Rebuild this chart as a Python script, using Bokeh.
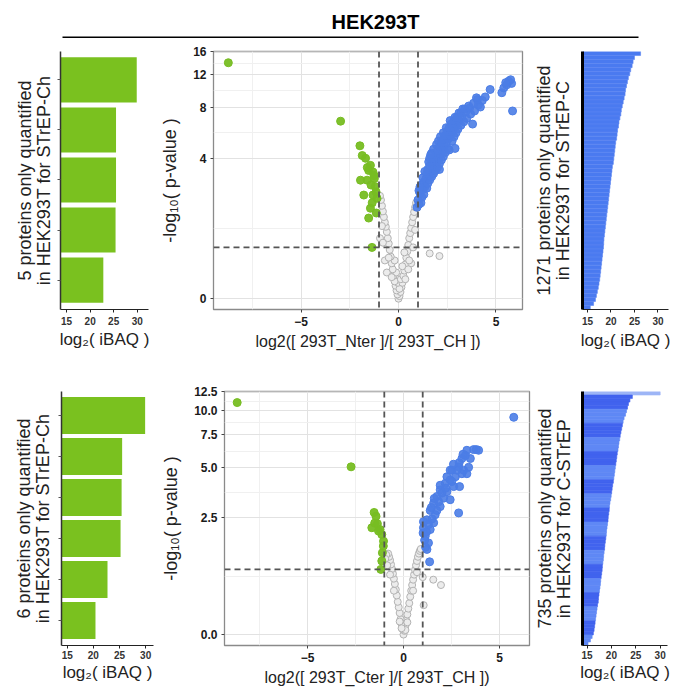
import numpy as np
from bokeh.plotting import figure
from bokeh.layouts import column, row
from bokeh.models import Range1d, FixedTicker, CustomJSTickFormatter, Span
from bokeh.embed import file_html
from bokeh.resources import INLINE
from bokeh.core.properties import value

FONT = "Liberation Sans"
BAR_GREEN = "#7ac11f"
PT_GREEN = "#77bd22"
PT_BLUE = "#4b7de6"
BLUE_BAR = "#4a7af0"
BLUE_DARK = "#4163ee"
BLUE_LIGHT = "#5f88f5"
BLUE_PALE = "#9db5f6"

title_text = "HEK293T"

# ---------------- data ----------------
ibaq_ticks = [15, 20, 25, 30]

# proteins only quantified in one condition (log2 iBAQ), top to bottom
nter_only_ibaq = [29.9, 25.5, 25.5, 25.4, 22.8]
cter_only_ibaq = [29.9, 25.5, 25.4, 25.2, 22.7, 20.4]

# 1271 proteins only in STrEP-C, ranked profile (each value = one rank bin)
strepc_only_ibaq = [26.3, 25.0, 24.7, 24.5, 24.2, 24.0, 23.7, 23.5, 23.3, 23.1,
                    23.0, 22.8, 22.6, 22.4, 22.2, 22.1, 21.9, 21.7, 21.6, 21.4,
                    21.3, 21.2, 21.0, 20.9, 20.8, 20.7, 20.6, 20.5, 20.3, 20.2,
                    20.1, 20.0, 19.9, 19.8, 19.7, 19.6, 19.5, 19.4, 19.3, 19.2,
                    19.1, 19.0, 18.9, 18.8, 18.7, 18.6, 18.5, 18.45, 18.4, 18.3,
                    18.2, 18.1, 18.0, 17.9, 17.8, 17.7, 17.6, 17.45, 17.3, 17.1,
                    16.9, 16.7, 16.3, 15.6]

# 735 proteins only in C-STrEP, ranked profile
cstrep_only_ibaq = [30.0, 24.3, 23.8, 23.5, 23.3, 23.1, 22.9, 22.6, 22.4, 22.25,
                    22.1, 21.95, 21.8, 21.7, 21.55, 21.45, 21.35, 21.2, 21.1, 21.0,
                    20.9, 20.8, 20.7, 20.6, 20.5, 20.4, 20.25, 20.15, 20.05, 19.95,
                    19.85, 19.7, 19.6, 19.55, 19.45, 19.35, 19.3, 19.2, 19.1, 19.0,
                    18.95, 18.85, 18.75, 18.65, 18.6, 18.5, 18.4, 18.35, 18.25, 18.15,
                    18.1, 18.0, 17.9, 17.8, 17.75, 17.65, 17.55, 17.45, 17.35, 17.3,
                    17.15, 17.05, 16.95, 16.85, 16.75, 16.65, 16.55, 16.45, 16.3, 16.05,
                    15.7, 15.2]

# volcano 1: log2(Nter/CH) vs -log10(p)
nter_green = [(-8.73, 13.95), (-2.97, 6.65), (-1.98, 4.77), (-1.86, 4.16), (-1.69, 4.0),
              (-1.44, 3.61), (-1.53, 3.35), (-1.31, 3.27), (-1.95, 2.89), (-1.61, 2.89),
              (-1.24, 2.96), (-1.41, 2.68), (-1.19, 2.61), (-1.78, 2.28), (-1.31, 2.28),
              (-1.10, 2.16), (-1.44, 1.82), (-1.53, 1.52), (-1.14, 1.67), (-1.36, 0.80),
              (-1.25, 3.1), (-1.6, 3.5), (-1.15, 2.4), (-1.35, 2.0)]
nter_blue = [(0.95, 1.85), (1.05, 1.95), (1.0, 2.1), (1.15, 2.0), (1.2, 2.2), (1.1, 2.35),
             (1.3, 2.3), (1.25, 2.5), (1.05, 2.45), (1.35, 2.6), (1.2, 2.7), (1.45, 2.55),
             (1.3, 2.8), (1.5, 2.75), (1.4, 2.95), (1.6, 2.9), (1.25, 3.0), (1.55, 3.1),
             (1.7, 3.05), (1.45, 3.2), (1.65, 3.3), (1.8, 3.2), (1.5, 3.4), (1.75, 3.45),
             (1.9, 3.35), (1.6, 3.6), (1.85, 3.6), (2.0, 3.5), (1.55, 3.8), (1.7, 3.8),
             (1.95, 3.8), (2.1, 3.7), (1.6, 4.0), (1.8, 4.0), (2.05, 4.0), (2.2, 3.9),
             (1.7, 4.3), (1.9, 4.2), (2.15, 4.25), (2.3, 4.1), (1.8, 4.55), (2.0, 4.45),
             (2.25, 4.5), (2.4, 4.35), (1.95, 4.85), (2.1, 4.7), (2.35, 4.75), (2.55, 4.6),
             (2.05, 5.1), (2.2, 4.95), (2.45, 5.0), (2.6, 4.5), (2.15, 5.4), (2.3, 5.2),
             (2.55, 5.25), (2.75, 5.1), (2.3, 5.7), (2.4, 5.5), (2.65, 5.5), (2.85, 5.4),
             (2.5, 5.8), (2.75, 5.8), (2.95, 5.7), (2.45, 6.1), (2.6, 6.1), (2.85, 6.1),
             (3.05, 6.0), (2.7, 6.4), (2.95, 6.4), (3.2, 6.3), (2.65, 6.7), (2.85, 6.7),
             (3.1, 6.7), (3.35, 6.6), (2.9, 7.0), (3.0, 7.0), (3.25, 7.1), (3.5, 6.9),
             (3.1, 7.4), (3.2, 7.4), (3.45, 7.5), (3.7, 7.3), (3.3, 7.8), (3.4, 7.8),
             (3.65, 7.9), (3.9, 7.6), (3.6, 8.1), (3.85, 8.4), (4.1, 8.2), (3.8, 6.4),
             (4.05, 8.8), (4.3, 8.7), (4.0, 9.0), (4.45, 9.1), (4.7, 10.0), (5.3, 9.6),
             (5.4, 10.2), (5.55, 10.6), (5.65, 11.1), (5.8, 10.8), (5.75, 11.3), (5.5, 10.9),
             (5.85, 7.6), (2.9, 4.6), (2.1, 3.4), (4.2, 8.0), (1.1, 2.6), (1.35, 3.3),
             (1.65, 4.2)]
nter_grey = [(0.0, 0.0), (0.05, 0.03), (-0.05, 0.05), (0.1, 0.08), (-0.1, 0.1), (0.15, 0.14),
             (-0.15, 0.16), (0.05, 0.12), (-0.03, 0.2), (0.2, 0.2), (-0.2, 0.22), (0.12, 0.25),
             (0.25, 0.3), (-0.25, 0.3), (-0.12, 0.35), (0.3, 0.38), (-0.3, 0.4), (0.35, 0.48),
             (-0.35, 0.5), (0.2, 0.45), (-0.2, 0.55), (0.4, 0.6), (-0.4, 0.62), (0.45, 0.72),
             (-0.45, 0.75), (0.3, 0.7), (0.5, 0.85), (-0.5, 0.88), (0.55, 1.0), (-0.55, 1.0),
             (0.6, 1.12), (-0.6, 1.15), (0.65, 1.25), (-0.65, 1.28), (0.7, 1.4), (-0.7, 1.4),
             (0.75, 1.55), (-0.75, 1.55), (0.8, 1.7), (-0.8, 1.72), (0.85, 1.85), (-0.85, 1.9),
             (0.9, 2.0), (-0.9, 2.1), (-0.95, 2.25), (-0.6, 0.35), (0.65, 0.5), (-0.7, 0.55),
             (0.75, 0.8), (0.5, 0.4), (1.6, 0.68), (2.1, 0.63), (-0.95, 1.0), (0.55, 0.55),
             (-0.5, 0.6), (0.35, 0.25), (-0.35, 0.28), (-0.85, 1.3), (0.85, 1.2), (-0.8, 0.9)]

# volcano 2: log2(Cter/CH) vs -log10(p)
cter_green = [(-8.66, 11.0), (-2.73, 5.03), (-1.53, 2.70), (-1.43, 2.55), (-1.65, 2.14),
              (-1.36, 2.28), (-1.22, 2.08), (-1.13, 1.92), (-1.04, 1.72), (-1.05, 1.58),
              (-1.13, 1.20), (-1.18, 1.01), (-1.30, 2.03), (-1.5, 2.3), (-1.1, 1.4)]
cter_blue = [(5.74, 9.25), (3.65, 6.25), (3.3, 6.2), (3.04, 5.59), (3.13, 4.82), (3.30, 4.6),
             (2.87, 5.03), (2.52, 4.82), (2.43, 4.24), (2.17, 4.05), (2.92, 3.88), (2.87, 2.68),
             (1.91, 3.71), (1.74, 3.39), (2.09, 3.31), (2.43, 3.24), (1.57, 3.09), (1.91, 2.94),
             (1.39, 2.78), (1.65, 2.61), (1.22, 2.42), (1.57, 2.31), (1.04, 2.14), (1.39, 2.08),
             (1.13, 1.87), (1.30, 1.67), (1.22, 1.49), (1.36, 1.18), (2.26, 4.42), (2.70, 4.42),
             (3.04, 4.6), (3.39, 5.0), (3.48, 5.59), (3.91, 6.2), (3.79, 6.25), (3.22, 5.8),
             (2.61, 3.88), (2.26, 3.62), (1.83, 3.15), (2.0, 3.55), (1.74, 2.78), (1.48, 2.45),
             (1.04, 2.35), (1.30, 2.25), (1.02, 1.97), (1.91, 3.95), (2.52, 4.15), (2.78, 4.82),
             (2.43, 4.82), (1.1, 1.75), (1.2, 2.0), (1.45, 2.9), (1.6, 3.3), (2.2, 3.8),
             (2.6, 5.2), (2.9, 5.3), (3.1, 5.9), (1.15, 1.55)]
cter_grey = [(0.0, 0.0), (0.05, 0.04), (-0.05, 0.06), (0.1, 0.1), (-0.1, 0.12), (0.15, 0.16),
             (-0.15, 0.18), (0.2, 0.24), (-0.2, 0.26), (0.25, 0.32), (-0.25, 0.34), (0.3, 0.4),
             (-0.3, 0.42), (0.35, 0.5), (-0.35, 0.52), (0.4, 0.6), (-0.4, 0.62), (0.45, 0.7),
             (-0.45, 0.72), (0.5, 0.8), (-0.5, 0.82), (0.55, 0.9), (-0.55, 0.92), (0.6, 1.0),
             (-0.6, 1.02), (0.65, 1.1), (-0.65, 1.12), (0.7, 1.2), (-0.7, 1.22), (0.75, 1.3),
             (-0.75, 1.3), (0.8, 1.38), (-0.8, 1.38), (0.85, 1.45), (-0.9, 1.35), (0.9, 1.5),
             (-0.95, 1.25), (1.0, 0.85), (1.55, 0.8), (1.95, 0.7), (1.05, 0.37), (-0.85, 1.1),
             (0.2, 0.14), (-0.2, 0.15), (0.1, 0.05), (-0.1, 0.07), (-0.5, 0.6), (0.5, 0.6),
             (-0.7, 0.9), (0.7, 0.95)]

nter_pval_ticks = [0, 4, 8, 12, 16]
cter_pval_ticks = [0, 2.5, 5, 7.5, 10, 12.5]
fc_ticks = [-5, 0, 5]
fc_minor_ticks = [-7.5, -2.5, 2.5]
fc_cutoff = 1.0
nter_p_cutoff = 0.80
cter_p_cutoff = 1.01


def base_fig(width, height, borders, xr, yr):
    p = figure(width=width, height=height, output_backend="svg", toolbar_location=None,
               x_range=Range1d(*xr), y_range=Range1d(*yr),
               min_border_left=borders[0], min_border_right=borders[1],
               min_border_top=borders[2], min_border_bottom=borders[3])
    p.background_fill_color = "white"
    p.border_fill_color = "white"
    return p


def style_bar_axes(p, ylabel, ylab_standoff, thick_axis, tick_standoff, xlab_standoff):
    p.grid.grid_line_color = None
    p.outline_line_color = None
    xa = p.xaxis[0]
    xa.ticker = FixedTicker(ticks=ibaq_ticks)
    xa.axis_line_color = "#222222"
    xa.axis_line_width = 1
    xa.major_tick_line_color = "#222222"
    xa.major_tick_out = 3
    xa.major_tick_in = 0
    xa.minor_tick_line_color = None
    xa.major_label_text_font = FONT
    xa.major_label_text_font_style = "bold"
    xa.major_label_text_font_size = "10px"
    xa.major_label_text_color = "#333333"
    xa.major_label_standoff = tick_standoff
    xa.axis_label = "log\u2082( iBAQ )"
    xa.axis_label_text_font = FONT
    xa.axis_label_text_font_style = "normal"
    xa.axis_label_text_font_size = "17px"
    xa.axis_label_text_color = "#222222"
    xa.axis_label_standoff = xlab_standoff
    ya = p.yaxis[0]
    ya.formatter = CustomJSTickFormatter(code="return '';")
    ya.major_label_standoff = 0
    ya.minor_tick_line_color = None
    if thick_axis:
        ya.axis_line_color = "black"
        ya.axis_line_width = 3
        ya.major_tick_line_color = None
        ya.ticker = FixedTicker(ticks=[])
    else:
        ya.axis_line_color = "#333333"
        ya.axis_line_width = 1.5
        ya.major_tick_line_color = "#555555"
        ya.major_tick_out = 3
        ya.major_tick_in = 0
    ya.axis_label = ylabel
    ya.axis_label_text_font = FONT
    ya.axis_label_text_font_style = "normal"
    ya.axis_label_text_font_size = "18px"
    ya.axis_label_text_line_height = 0.95
    ya.axis_label_text_color = "#222222"
    ya.axis_label_standoff = ylab_standoff


def green_panel(vals, ylabel, width, height, borders, xr, pad_top, pad_bot, ylab_standoff,
                tick_standoff, xlab_standoff):
    n = len(vals)
    pos = list(range(1, n + 1))
    p = base_fig(width, height, borders, xr, (n + 0.5 + pad_bot, 0.5 - pad_top))
    p.hbar(y=pos, left=0, right=vals, height=0.9, fill_color=BAR_GREEN, line_color=None)
    style_bar_axes(p, ylabel, ylab_standoff, False, tick_standoff, xlab_standoff)
    p.yaxis[0].ticker = FixedTicker(ticks=pos)
    return p


def blue_panel(vals, colors, line_colors, ylabel, width, height, borders, xr, ylab_standoff,
               tick_standoff, xlab_standoff):
    n = len(vals)
    pos = [i + 0.5 for i in range(n)]
    p = base_fig(width, height, borders, xr, (n, 0))
    p.hbar(y=pos, left=0, right=vals, height=1, fill_color=colors, line_color=line_colors,
           line_width=0.6)
    style_bar_axes(p, ylabel, ylab_standoff, True, tick_standoff, xlab_standoff)
    return p


def volcano(grey, green, blue, pticks, ndec, p_cut, xlabel, width, height, borders, xr, yr,
            ylab_standoff, xlab_standoff):
    p = base_fig(width, height, borders, xr, yr)
    tf = np.log1p
    gx, gy = zip(*grey)
    p.scatter(list(gx), list(tf(np.array(gy))), size=7, fill_color="#ececec",
              line_color="#b3b3b3", line_width=1)
    sx, sy = zip(*green)
    p.scatter(list(sx), list(tf(np.array(sy))), size=8, fill_color=PT_GREEN,
              line_color=PT_GREEN, fill_alpha=0.95)
    bx, by = zip(*blue)
    p.scatter(list(bx), list(tf(np.array(by))), size=8, fill_color=PT_BLUE,
              line_color=PT_BLUE, fill_alpha=0.9)
    for loc in (-fc_cutoff, fc_cutoff):
        p.add_layout(Span(location=loc, dimension="height", line_color="#555555",
                          line_width=1.8, line_dash="6 4"))
    p.add_layout(Span(location=float(tf(p_cut)), dimension="width", line_color="#555555",
                      line_width=1.8, line_dash="6 4"))
    tl = [float(v) for v in tf(np.array(pticks, dtype=float))]
    minors = [(a + b) / 2 for a, b in zip(tl[:-1], tl[1:])]
    p.yaxis[0].ticker = FixedTicker(ticks=tl, minor_ticks=minors)
    p.yaxis[0].formatter = CustomJSTickFormatter(
        code="return (Math.exp(tick) - 1).toFixed(%d);" % ndec)
    p.xaxis[0].ticker = FixedTicker(ticks=fc_ticks, minor_ticks=fc_minor_ticks)
    p.grid.grid_line_color = "#e2e2e2"
    p.grid.grid_line_width = 1
    p.grid.minor_grid_line_color = "#f0f0f0"
    p.grid.minor_grid_line_width = 1
    p.outline_line_color = "#8a8a8a"
    p.outline_line_width = 1.3
    for ax in (p.xaxis[0], p.yaxis[0]):
        ax.axis_line_color = None
        ax.major_tick_line_color = "#444444"
        ax.major_tick_out = 3
        ax.major_tick_in = 0
        ax.minor_tick_line_color = None
        ax.major_label_text_font = FONT
        ax.major_label_text_font_style = "bold"
        ax.major_label_text_font_size = "12px"
        ax.major_label_text_color = "#1a1a1a"
        ax.major_label_standoff = 3
        ax.axis_label_text_font = FONT
        ax.axis_label_text_font_style = "normal"
        ax.axis_label_text_font_size = "16px"
        ax.axis_label_text_color = "#222222"
    p.xaxis[0].axis_label = xlabel
    p.xaxis[0].axis_label_standoff = xlab_standoff
    p.yaxis[0].axis_label = "-log\u2081\u2080( p-value )"
    p.yaxis[0].axis_label_text_font_size = "18px"
    p.yaxis[0].axis_label_standoff = ylab_standoff
    return p


# ---------------- title ----------------
tp = figure(width=678, height=38, output_backend="svg", toolbar_location=None,
            x_range=Range1d(0, 678), y_range=Range1d(38, 0),
            x_axis_type=None, y_axis_type=None, min_border=0)
tp.grid.grid_line_color = None
tp.outline_line_color = None
tp.text(x=[375], y=[21], text=[title_text], text_font=value(FONT), text_font_style="bold",
        text_font_size="20px", text_align="center", text_baseline="middle", text_color="black")
tp.segment(x0=[62], y0=[37], x1=[638], y1=[37], line_color="black", line_width=2)

# ---------------- top row (page y 38..352) ----------------
l1 = green_panel(nter_only_ibaq, "5 proteins only quantified\nin HEK293T for STrEP-Ch",
                 150, 314, (60, 2, 7, 42), (13.7, 32.4), 0.067, 0.087, 4, 4, 2)
v1 = volcano(nter_grey, nter_green, nter_blue, nter_pval_ticks, 0, nter_p_cutoff,
             "log2([ 293T_Nter ]/[ 293T_CH ])", 375, 314, (63, 3, 13, 41),
             (-9.49, 6.36), (-0.124, 2.8335), 10, 4)
r1_colors = [BLUE_BAR] * len(strepc_only_ibaq)
r1 = blue_panel(strepc_only_ibaq, r1_colors, ["#5a85f1"] * len(strepc_only_ibaq),
                "1271 proteins only quantified\nin HEK293T for STrEP-C",
                153, 314, (57, 10, 5, 40), (13.94, 32.24), 10, 4, 3)

# ---------------- bottom row (page y 352..688) ----------------
l2 = green_panel(cter_only_ibaq, "6 proteins only quantified\nin HEK293T for STrEP-Ch",
                 156, 336, (61, 3, 33, 43), (13.9, 31.5), 0.086, 0.11, 6, 2, 1)
v2 = volcano(cter_grey, cter_green, cter_blue, cter_pval_ticks, 1, cter_p_cutoff,
             "log2([ 293T_Cter ]/[ 293T_CH ])", 375, 336, (68, 2, 39, 41),
             (-9.32, 6.56), (-0.117, 2.6035), 10, 4)
r2_colors = [BLUE_PALE] + [BLUE_DARK if ((i - 1) // 4) % 2 == 0 else BLUE_LIGHT
                           for i in range(1, len(cstrep_only_ibaq))]
r2 = blue_panel(cstrep_only_ibaq, r2_colors, r2_colors,
                "735 proteins only quantified\nin HEK293T for C-STrEP",
                147, 336, (50, 11, 36, 40), (14.07, 31.5), 9, 2, 1)

layout = column(tp, row(l1, v1, r1), row(l2, v2, r2))
open("out.html", "w").write(file_html(layout, INLINE))
